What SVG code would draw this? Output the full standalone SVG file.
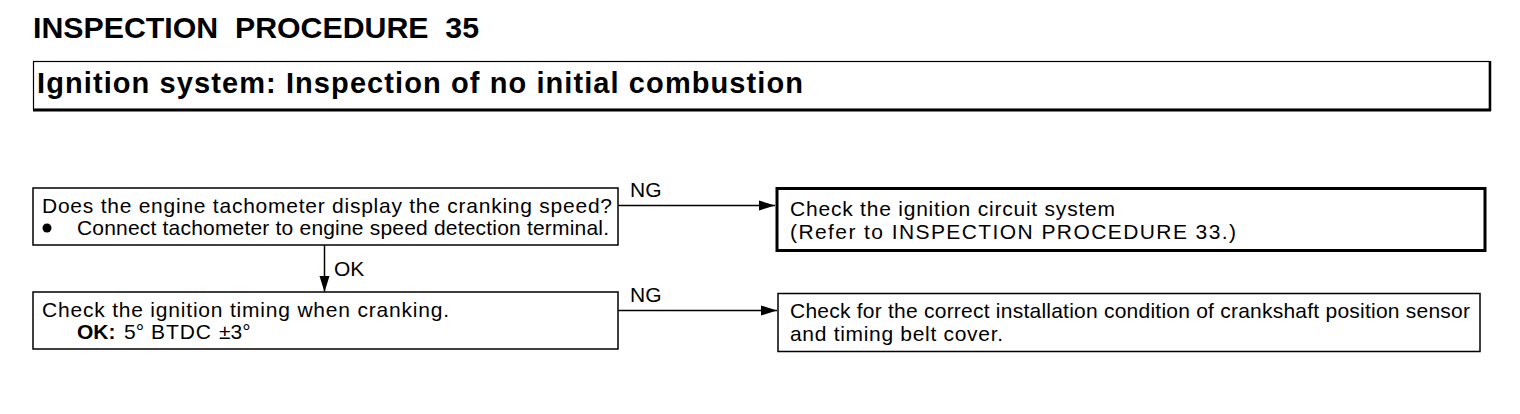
<svg xmlns="http://www.w3.org/2000/svg" width="1520" height="414" viewBox="0 0 1520 414">
<defs>
<style>
.t{font-family:"Liberation Sans",Arial,sans-serif;fill:#000;white-space:pre}
.b{font-weight:bold}
.body{font-size:21px}
.box{fill:#fff;stroke:#000;stroke-width:1.5}
.thick{fill:#fff;stroke:#000;stroke-width:3}
.ln{stroke:#000;stroke-width:1.5;fill:none}
</style>
<marker id="ah" markerWidth="18" markerHeight="12" refX="16" refY="6" orient="auto" markerUnits="userSpaceOnUse">
<path d="M0,1 L16,6 L0,11 Z" fill="#000"/>
</marker>
</defs>
<rect width="1520" height="414" fill="#fff"/>
<g id="title">
<text class="t b" x="33" y="38" font-size="30" textLength="446" lengthAdjust="spacingAndGlyphs" xml:space="preserve">INSPECTION  PROCEDURE  35</text>
</g>
<g id="header">
<rect x="33.5" y="61.5" width="1456" height="48" fill="#fff" stroke="#000" stroke-width="1.2"/>
<line x1="33" y1="110" x2="1491" y2="110" stroke="#000" stroke-width="3"/>
<line x1="1490" y1="61" x2="1490" y2="111" stroke="#000" stroke-width="2.5"/>
<text class="t b" x="37" y="93" font-size="29" textLength="766" lengthAdjust="spacing">Ignition system: Inspection of no initial combustion</text>
</g>
<g id="connectors">
<line class="ln" x1="618" y1="205.5" x2="775" y2="205.5" marker-end="url(#ah)"/>
<text class="t body" x="630" y="197">NG</text>
<line class="ln" x1="618" y1="310.5" x2="777" y2="310.5" marker-end="url(#ah)"/>
<text class="t body" x="630" y="302">NG</text>
<line class="ln" x1="324.5" y1="245" x2="324.5" y2="292" marker-end="url(#ah)"/>
<text class="t body" x="334" y="276">OK</text>
</g>
<g id="n1">
<rect class="box" x="33" y="188" width="585" height="57"/>
<text class="t body" x="42" y="213" textLength="570" lengthAdjust="spacing">Does the engine tachometer display the cranking speed?</text>
<circle cx="47" cy="228" r="4.5" fill="#000"/>
<text class="t body" x="77" y="235" textLength="532" lengthAdjust="spacing">Connect tachometer to engine speed detection terminal.</text>
</g>
<g id="n2">
<rect class="box" x="33" y="292" width="585" height="57"/>
<text class="t body" x="42" y="317" textLength="407" lengthAdjust="spacing">Check the ignition timing when cranking.</text>
<text class="t body" x="77" y="339"><tspan font-weight="bold">OK:</tspan><tspan x="124">5°</tspan><tspan x="151" textLength="60" lengthAdjust="spacing">BTDC</tspan><tspan x="219">±3°</tspan></text>
</g>
<g id="n3">
<rect class="thick" x="777" y="188.5" width="708" height="62"/>
<text class="t body" x="790" y="216" textLength="325" lengthAdjust="spacing">Check the ignition circuit system</text>
<text class="t body" x="790" y="239" textLength="446" lengthAdjust="spacing">(Refer to INSPECTION PROCEDURE 33.)</text>
</g>
<g id="n4">
<rect class="box" x="778" y="293.5" width="702" height="58"/>
<text class="t body" x="790" y="318" textLength="680" lengthAdjust="spacing">Check for the correct installation condition of crankshaft position sensor</text>
<text class="t body" x="790" y="341" textLength="213" lengthAdjust="spacing">and timing belt cover.</text>
</g>
</svg>
